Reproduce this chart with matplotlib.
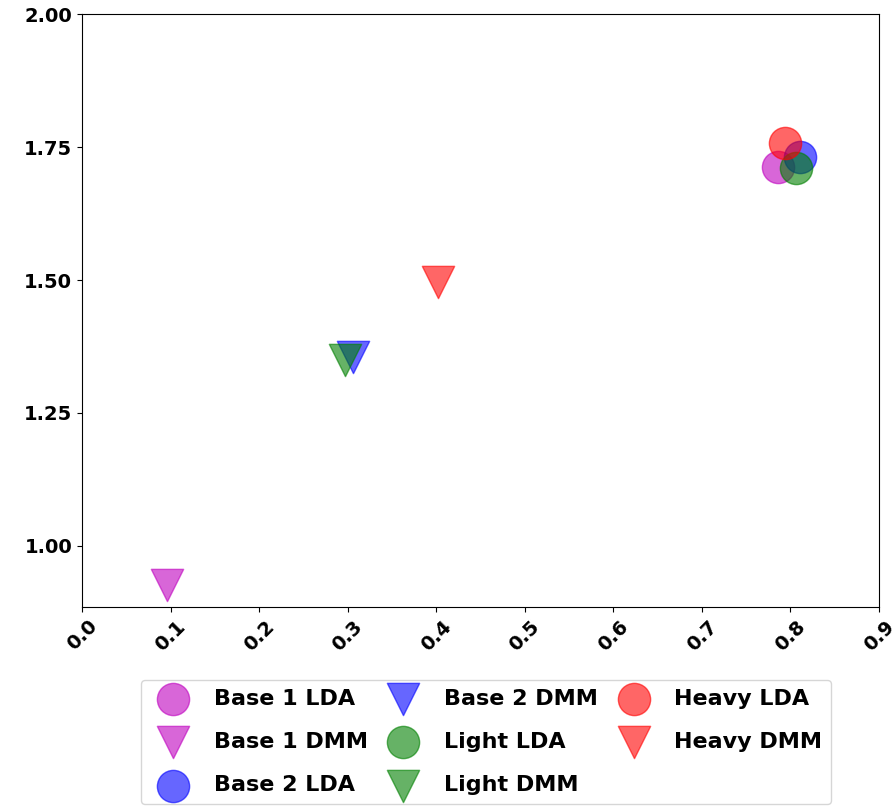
import matplotlib
matplotlib.use("Agg")
import matplotlib.pyplot as plt

# values
labels = ["Base 1 LDA", "Base 1 DMM", "Base 2 LDA", "Base 2 DMM",
          "Light LDA", "Light DMM", "Heavy LDA", "Heavy DMM"]
x_vals = [0.786, 0.096, 0.811, 0.306, 0.806, 0.297, 0.794, 0.402]
y_vals = [1.712, 0.927, 1.731, 1.356, 1.711, 1.350, 1.757, 1.497]
colors = ["m", "m", "b", "b", "g", "g", "r", "r"]
markers = ["o", "v", "o", "v", "o", "v", "o", "v"]

plt.rcParams["font.weight"] = "bold"

fig = plt.figure(figsize=(8.96, 8.11), dpi=100)
ax = fig.add_axes([0.0915, 0.2515, 0.8895, 0.731])

for xv, yv, c, m, lab in zip(x_vals, y_vals, colors, markers, labels):
    ax.scatter(xv, yv, c=c, marker=m, s=540, alpha=0.6, label=lab)

ax.set_xlim(0, 0.9)
ax.set_ylim(0.885, 2.0)
ax.set_xticks([i / 10 for i in range(10)])
ax.set_yticks([1.0, 1.25, 1.5, 1.75, 2.0])
ax.tick_params(axis="both", labelsize=14)
plt.setp(ax.get_xticklabels(), rotation=45, fontweight="bold")
plt.setp(ax.get_yticklabels(), fontweight="bold")

ax.legend(loc="upper center", bbox_to_anchor=(0.507, -0.104), ncol=3,
          prop={"weight": "bold", "size": 16}, labelspacing=1.05,
          handlelength=2.08, handletextpad=0.8, columnspacing=0.56)

fig.savefig("out.png", dpi=100)
